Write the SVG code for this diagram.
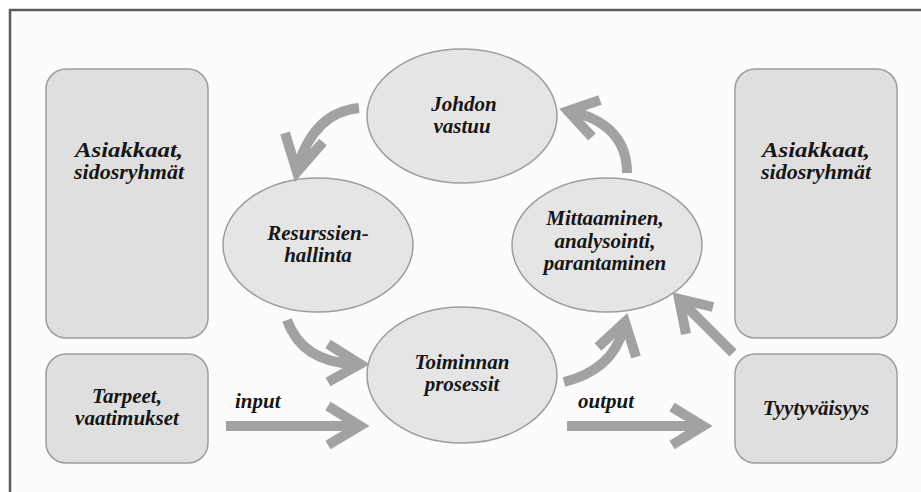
<svg xmlns="http://www.w3.org/2000/svg" width="921" height="492" viewBox="0 0 921 492">
<style>
.box{fill:#dfdfdf;stroke:#9d9d9d;stroke-width:1.5}
.ell{fill:#e5e5e5;stroke:#9d9d9d;stroke-width:1.5}
text{font-family:'Liberation Serif','DejaVu Serif',serif;font-weight:700;font-style:italic;font-size:21px;fill:#151515}
.t{text-anchor:middle}
.a{fill:none;stroke:#a2a2a2;stroke-width:10;stroke-linejoin:miter}
</style>
<rect x="0" y="0" width="921" height="492" fill="#ffffff"/>
<rect x="10" y="10" width="911" height="482" fill="#fcfcfc"/>
<line x1="9" y1="10" x2="921" y2="10" stroke="#5f5a5c" stroke-width="2.5"/>
<line x1="10" y1="9" x2="10" y2="492" stroke="#5f5a5c" stroke-width="2.5"/>

<g id="asiakkaat-left">
<rect class="box" x="46" y="69" width="162" height="269" rx="20"/>
<text class="t" x="129" y="157" textLength="108" lengthAdjust="spacingAndGlyphs">Asiakkaat,</text>
<text class="t" x="129" y="179" textLength="110" lengthAdjust="spacingAndGlyphs">sidosryhmät</text>
</g>
<g id="tarpeet">
<rect class="box" x="46" y="354" width="162" height="109" rx="20"/>
<text class="t" x="127" y="403">Tarpeet,</text>
<text class="t" x="127" y="425">vaatimukset</text>
</g>
<g id="asiakkaat-right">
<rect class="box" x="735" y="69" width="162" height="269" rx="20"/>
<text class="t" x="816" y="157" textLength="108" lengthAdjust="spacingAndGlyphs">Asiakkaat,</text>
<text class="t" x="816" y="179" textLength="110" lengthAdjust="spacingAndGlyphs">sidosryhmät</text>
</g>
<g id="tyytyvaisyys">
<rect class="box" x="735" y="354" width="162" height="109" rx="20"/>
<text class="t" x="816" y="415">Tyytyväisyys</text>
</g>
<g id="johdon">
<ellipse class="ell" cx="462" cy="116" rx="95" ry="67"/>
<text class="t" x="464" y="111">Johdon</text>
<text class="t" x="462" y="133">vastuu</text>
</g>
<g id="resurssien">
<ellipse class="ell" cx="318" cy="245" rx="95" ry="67"/>
<text class="t" x="318" y="240">Resurssien-</text>
<text class="t" x="318" y="262">hallinta</text>
</g>
<g id="mittaaminen">
<ellipse class="ell" cx="607" cy="245" rx="95" ry="67"/>
<text class="t" x="605" y="225">Mittaaminen,</text>
<text class="t" x="605" y="248">analysointi,</text>
<text class="t" x="605" y="270">parantaminen</text>
</g>
<g id="toiminnan">
<ellipse class="ell" cx="462" cy="375" rx="95" ry="68"/>
<text class="t" x="462" y="369">Toiminnan</text>
<text class="t" x="462" y="391">prosessit</text>
</g>

<g id="connectors">
<path class="a" d="M359,108 Q315,112 298,166"/>
<path class="a" d="M285,133 L297,172 L323,142"/>
<path class="a" d="M627,173 Q627,126 574,112"/>
<path class="a" d="M600,100 L568,111 L592,137"/>
<path class="a" d="M287,320 Q302,362 354,364"/>
<path class="a" d="M328,344 L360,364 L328,382"/>
<path class="a" d="M564,382 Q612,370 623,330"/>
<path class="a" d="M598,347 L625,322 L636,357"/>
<path class="a" d="M733,353 L681,301"/>
<path class="a" d="M713,307 L679,299 L686,334"/>
<path class="a" d="M226,426 L356,426"/>
<path class="a" d="M328,406 L360,426 L328,445"/>
<path class="a" d="M567,426 L699,426"/>
<path class="a" d="M672,407 L703,426 L672,445"/>
<text x="235" y="408">input</text>
<text x="578" y="408">output</text>
</g>
</svg>
